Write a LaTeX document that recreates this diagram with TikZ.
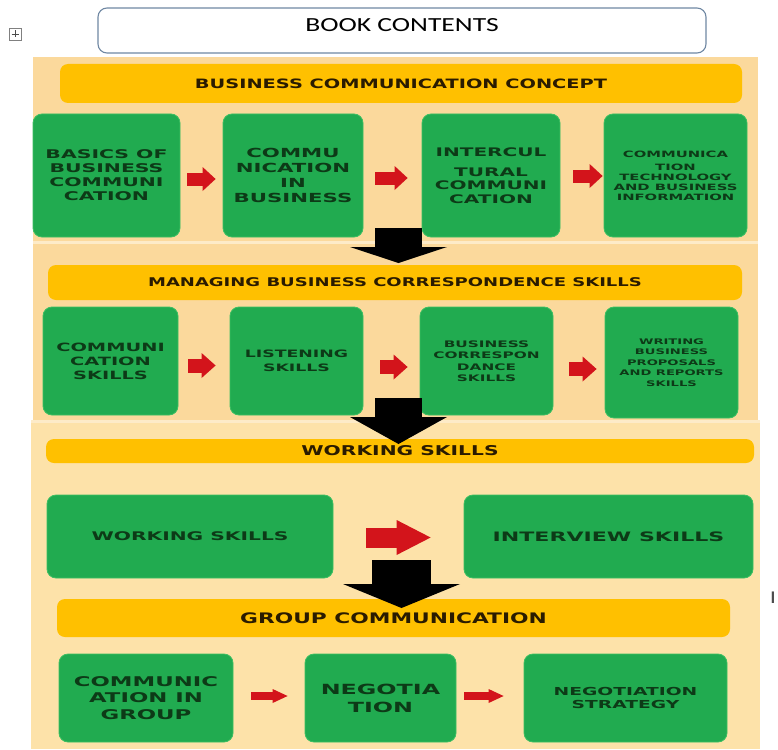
\documentclass[tikz,border=0pt]{standalone}
\usepackage{fontspec}
\usetikzlibrary{arrows.meta}
\newfontfamily\barfont{DejaVu Sans}[FakeStretch=1.5]
\newfontfamily\boxfont{DejaVu Sans}[FakeStretch=1.7]
\newfontfamily\titlefont{Carlito}[FakeStretch=1.38]
\definecolor{peach}{HTML}{FBD99C}
\definecolor{peachlt}{HTML}{FDE2A9}
\definecolor{gapc}{HTML}{FDEBC8}
\definecolor{gold}{HTML}{FFC000}
\definecolor{gboxc}{HTML}{21AB50}
\definecolor{gedge}{HTML}{3CBF62}
\definecolor{gtxt}{HTML}{0D3A17}
\definecolor{btxt}{HTML}{2A1B00}
\definecolor{arrred}{HTML}{D3141B}
\definecolor{titleedge}{HTML}{7088A3}
\begin{document}
\begin{tikzpicture}[x=1pt,y=-1pt,
  bar/.style={fill=gold, rounded corners=8pt, inner sep=0pt, text=btxt},
  gbox/.style={fill=gboxc, draw=gedge, line width=0.8pt, rounded corners=9pt, inner sep=2pt, align=center, text=gtxt},
  redarrow/.style n args={3}{draw=arrred, line width=#1, -{Triangle[width=#2, length=#3, line width=0pt]}},
  bigarrow/.style n args={3}{draw=black, line width=#1, -{Triangle[width=#2, length=#3, line width=0pt]}}
]
\useasboundingbox (0,0) rectangle (778,749);
\fill[white] (0,0) rectangle (778,749);

% backgrounds
\fill[peach] (33,57) rectangle (758,241);
\fill[gapc] (33,241) rectangle (758,244);
\fill[peach] (33,244) rectangle (758,420);
\fill[gapc] (31,420) rectangle (760,423);
\fill[peachlt] (31,423) rectangle (760,749);

% handle icon
\draw[gray, line width=0.6pt, fill=white] (9,28) rectangle (21,40);
\draw[gray!60!black, line width=0.7pt] (15,30.5) -- (15,37.5) (11.5,34) -- (18.5,34);

% title
\node[draw=titleedge, line width=1.1pt, rounded corners=9pt, fill=white, minimum width=608pt, minimum height=45pt, text depth=10pt, font=\titlefont\fontsize{20}{24}\selectfont, text=black] (title) at (402,30.5) {BOOK CONTENTS};

% bars
\node[bar, minimum width=682pt, minimum height=39pt, font=\barfont\bfseries\fontsize{12.9}{14}\selectfont] (bar1) at (401,83.5) {BUSINESS COMMUNICATION CONCEPT};
\node[bar, minimum width=694pt, minimum height=35pt, font=\barfont\bfseries\fontsize{12}{14}\selectfont] (bar2) at (395,282.5) {MANAGING BUSINESS CORRESPONDENCE SKILLS};
\node[bar, minimum width=708pt, minimum height=24pt, font=\barfont\bfseries\fontsize{13.5}{15}\selectfont] (bar3) at (400,451) {WORKING SKILLS};
\node[bar, minimum width=673pt, minimum height=38pt, font=\barfont\bfseries\fontsize{14.5}{16}\selectfont] (bar4) at (393.5,618) {GROUP COMMUNICATION};

% row 1
\node[gbox, minimum width=147pt, minimum height=123pt, font=\boxfont\bfseries\fontsize{12}{14}\selectfont] (b11) at (106.5,175.5) {BASICS OF\\BUSINESS\\COMMUNI\\CATION};
\node[gbox, minimum width=140pt, minimum height=123pt, font=\boxfont\bfseries\fontsize{12.5}{15}\selectfont] (b12) at (293,175.5) {COMMU\\NICATION\\IN\\BUSINESS};
\node[gbox, minimum width=138pt, minimum height=123pt, font=\boxfont\bfseries\fontsize{11.8}{13.5}\selectfont] (b13) at (491,175.5) {INTERCUL\\[6pt]TURAL\\COMMUNI\\CATION};
\node[gbox, minimum width=143pt, minimum height=123pt, font=\boxfont\bfseries\fontsize{8.7}{10}\selectfont] (b14) at (675.5,175.5) {COMMUNICA\\[3pt]TION\\TECHNOLOGY\\AND BUSINESS\\INFORMATION};

% row 2
\node[gbox, minimum width=135pt, minimum height=108pt, font=\boxfont\bfseries\fontsize{11.4}{14}\selectfont] (b21) at (110.5,361) {COMMUNI\\CATION\\SKILLS};
\node[gbox, minimum width=133pt, minimum height=108pt, font=\boxfont\bfseries\fontsize{10.2}{14}\selectfont] (b22) at (296.5,361) {LISTENING\\SKILLS};
\node[gbox, minimum width=133pt, minimum height=108pt, font=\boxfont\bfseries\fontsize{9}{11.5}\selectfont] (b23) at (486.5,361) {BUSINESS\\CORRESPON\\DANCE\\SKILLS};
\node[gbox, minimum width=133pt, minimum height=111pt, font=\boxfont\bfseries\fontsize{7.7}{10.5}\selectfont] (b24) at (671.5,362.5) {WRITING\\BUSINESS\\PROPOSALS\\AND REPORTS\\SKILLS};

% row 3
\node[gbox, minimum width=286pt, minimum height=83pt, font=\boxfont\bfseries\fontsize{11.9}{14}\selectfont] (b31) at (190,536.5) {WORKING SKILLS};
\node[gbox, minimum width=289pt, minimum height=83pt, font=\boxfont\bfseries\fontsize{13}{15}\selectfont] (b32) at (608.5,536.5) {INTERVIEW SKILLS};

% row 4
\node[gbox, minimum width=174pt, minimum height=88pt, font=\boxfont\bfseries\fontsize{13.4}{16.5}\selectfont] (b41) at (146,698) {COMMUNIC\\ATION IN\\GROUP};
\node[gbox, minimum width=151pt, minimum height=88pt, font=\boxfont\bfseries\fontsize{14}{18}\selectfont] (b42) at (380.5,698) {NEGOTIA\\TION};
\node[gbox, minimum width=203pt, minimum height=88pt, font=\boxfont\bfseries\fontsize{11}{13}\selectfont] (b43) at (625.5,698) {NEGOTIATION\\STRATEGY};

% red arrows
\draw[redarrow={13pt}{24pt}{13pt}, shorten <=7pt, shorten >=7pt] ([yshift=-3.5pt]b11.east) -- ([yshift=-3.5pt]b12.west);
\draw[redarrow={13pt}{24pt}{13pt}, shorten <=12pt, shorten >=14pt] ([yshift=-2.5pt]b12.east) -- ([yshift=-2.5pt]b13.west);
\draw[redarrow={13pt}{24pt}{13pt}, shorten <=13pt, shorten >=1pt] ([yshift=-0.5pt]b13.east) -- ([yshift=-0.5pt]b14.west);
\draw[redarrow={14pt}{25pt}{14pt}, shorten <=10pt, shorten >=14pt] ([yshift=-4.5pt]b21.east) -- ([yshift=-4.5pt]b22.west);
\draw[redarrow={14pt}{25pt}{14pt}, shorten <=17pt, shorten >=12pt] ([yshift=-6pt]b22.east) -- ([yshift=-6pt]b23.west);
\draw[redarrow={14pt}{25pt}{14pt}, shorten <=16pt, shorten >=8pt] ([yshift=-8pt]b23.east) -- ([yshift=-6.5pt]b24.west);
\draw[redarrow={20pt}{35pt}{34pt}, shorten <=33pt, shorten >=33pt] ([yshift=-1pt]b31.east) -- ([yshift=-1pt]b32.west);
\draw[redarrow={8pt}{14pt}{15pt}, shorten <=18pt, shorten >=17pt] ([yshift=2pt]b41.east) -- ([yshift=2pt]b42.west);
\draw[redarrow={8pt}{14pt}{15pt}, shorten <=8pt, shorten >=20pt] ([yshift=2pt]b42.east) -- ([yshift=2pt]b43.west);

% big black arrows
\coordinate (k1s) at (398.5,228);
\coordinate (k1e) at (398.5,263);
\coordinate (k2s) at (398.5,398);
\coordinate (k2e) at (398.5,444);
\coordinate (k3s) at (401.5,560);
\coordinate (k3e) at (401.5,608);
\draw[bigarrow={47pt}{97pt}{16pt}] (k1s) -- (k1e);
\draw[bigarrow={47pt}{97pt}{27pt}] (k2s) -- (k2e);
\draw[bigarrow={59pt}{117pt}{24pt}] (k3s) -- (k3e);

% text cursor mark
\node[font=\titlefont\fontsize{18}{20}\selectfont, text=black!70, inner sep=0pt] (cursor) at (773,598) {I};
\end{tikzpicture}
\end{document}
